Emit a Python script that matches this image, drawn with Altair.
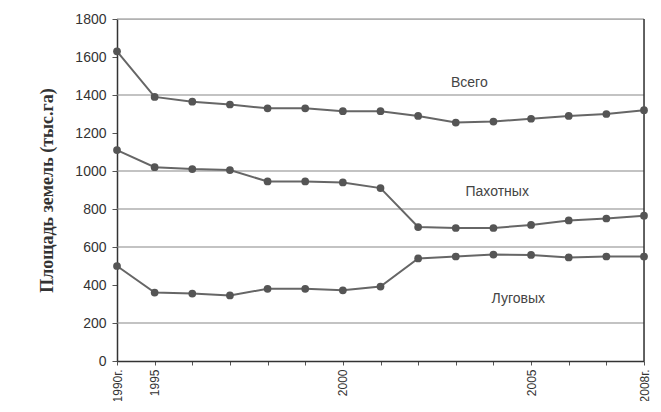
import altair as alt
import pandas as pd

years = [1990, 1995, 1996, 1997, 1998, 1999, 2000, 2001, 2002, 2003, 2004, 2005, 2006, 2007, 2008]
tick_labels = ["1990г.", "1995", "", "", "", "", "2000", "", "", "", "", "2005", "", "", "2008г."]
vsego = [1630, 1390, 1365, 1350, 1330, 1330, 1315, 1315, 1290, 1255, 1260, 1275, 1290, 1300, 1320]
pahotnyh = [1110, 1020, 1010, 1005, 945, 945, 940, 910, 705, 700, 700, 716, 740, 750, 765]
lugovyh = [500, 360, 355, 345, 380, 380, 372, 392, 540, 550, 560, 558, 545, 550, 550]
series_names = ["Всего", "Пахотных", "Луговых"]
label_pos_x = [9.36, 10.1, 10.66]
label_pos_y = [1463, 889, 326]
grid_values = [1800, 1400, 1000, 800, 600, 200]

rows = []
for name, vals in zip(series_names, [vsego, pahotnyh, lugovyh]):
    for i, (yr, v) in enumerate(zip(years, vals)):
        rows.append({"i": i, "year": yr, "value": v, "series": name})
df = pd.DataFrame(rows)
labels_df = pd.DataFrame({"name": series_names, "x": label_pos_x, "y": label_pos_y})
grid_df = pd.DataFrame({"g": grid_values})

label_js = "[" + ",".join('"%s"' % t for t in tick_labels) + "]"

x_scale = alt.Scale(domain=[0, len(years) - 1], nice=False, zero=False)
y_scale = alt.Scale(domain=[0, 1800], nice=False)

x_axis = alt.Axis(
    values=list(range(len(years))),
    labelExpr=label_js + "[datum.value]",
    labelAngle=-90,
    labelFont="Liberation Sans",
    labelFontSize=12,
    labelColor="#333",
    tickSize=4,
    tickColor="#555",
    domainColor="#333",
    domainWidth=1.5,
    grid=False,
    title=None,
    labelPadding=4,
)
y_axis = alt.Axis(
    values=list(range(0, 1801, 200)),
    format="d",
    labelFont="Liberation Sans",
    labelFontSize=14,
    labelColor="#333",
    tickSize=5,
    tickColor="#555",
    domainColor="#333",
    domainWidth=1.5,
    grid=False,
    labelPadding=6,
    title="Площадь земель (тыс.га)",
    titleFont="Liberation Serif",
    titleFontSize=18,
    titleFontWeight="bold",
    titleColor="#333",
    titlePadding=18,
)

grid = alt.Chart(grid_df).mark_rule(color="#888", strokeWidth=1.2).encode(
    y=alt.Y("g:Q", scale=y_scale, axis=y_axis)
)

right_border = alt.Chart(pd.DataFrame({"xr": [len(years) - 1]})).mark_rule(
    color="#333", strokeWidth=1.5
).encode(x=alt.X("xr:Q", scale=x_scale, axis=x_axis))

lines = alt.Chart(df).mark_line(color="#666", strokeWidth=2).encode(
    x=alt.X("i:Q", scale=x_scale, axis=x_axis),
    y=alt.Y("value:Q", scale=y_scale, axis=y_axis),
    detail="series:N",
)
points = alt.Chart(df).mark_point(
    shape="circle", filled=True, color="#555", size=60, opacity=1
).encode(
    x=alt.X("i:Q", scale=x_scale, axis=x_axis),
    y=alt.Y("value:Q", scale=y_scale, axis=y_axis),
)
texts = alt.Chart(labels_df).mark_text(
    font="Liberation Sans", fontSize=14, color="#444"
).encode(
    x=alt.X("x:Q", scale=x_scale, axis=x_axis),
    y=alt.Y("y:Q", scale=y_scale, axis=y_axis),
    text="name:N",
)

chart = alt.layer(grid, right_border, lines, points, texts).properties(
    width=527,
    height=342,
    autosize=alt.AutoSizeParams(type="none"),
    padding={"left": 109, "top": 11, "right": 9, "bottom": 40},
).configure_view(stroke=None).configure(background="white")

chart.save("out.html", embed_options={"renderer": "svg", "actions": False})
